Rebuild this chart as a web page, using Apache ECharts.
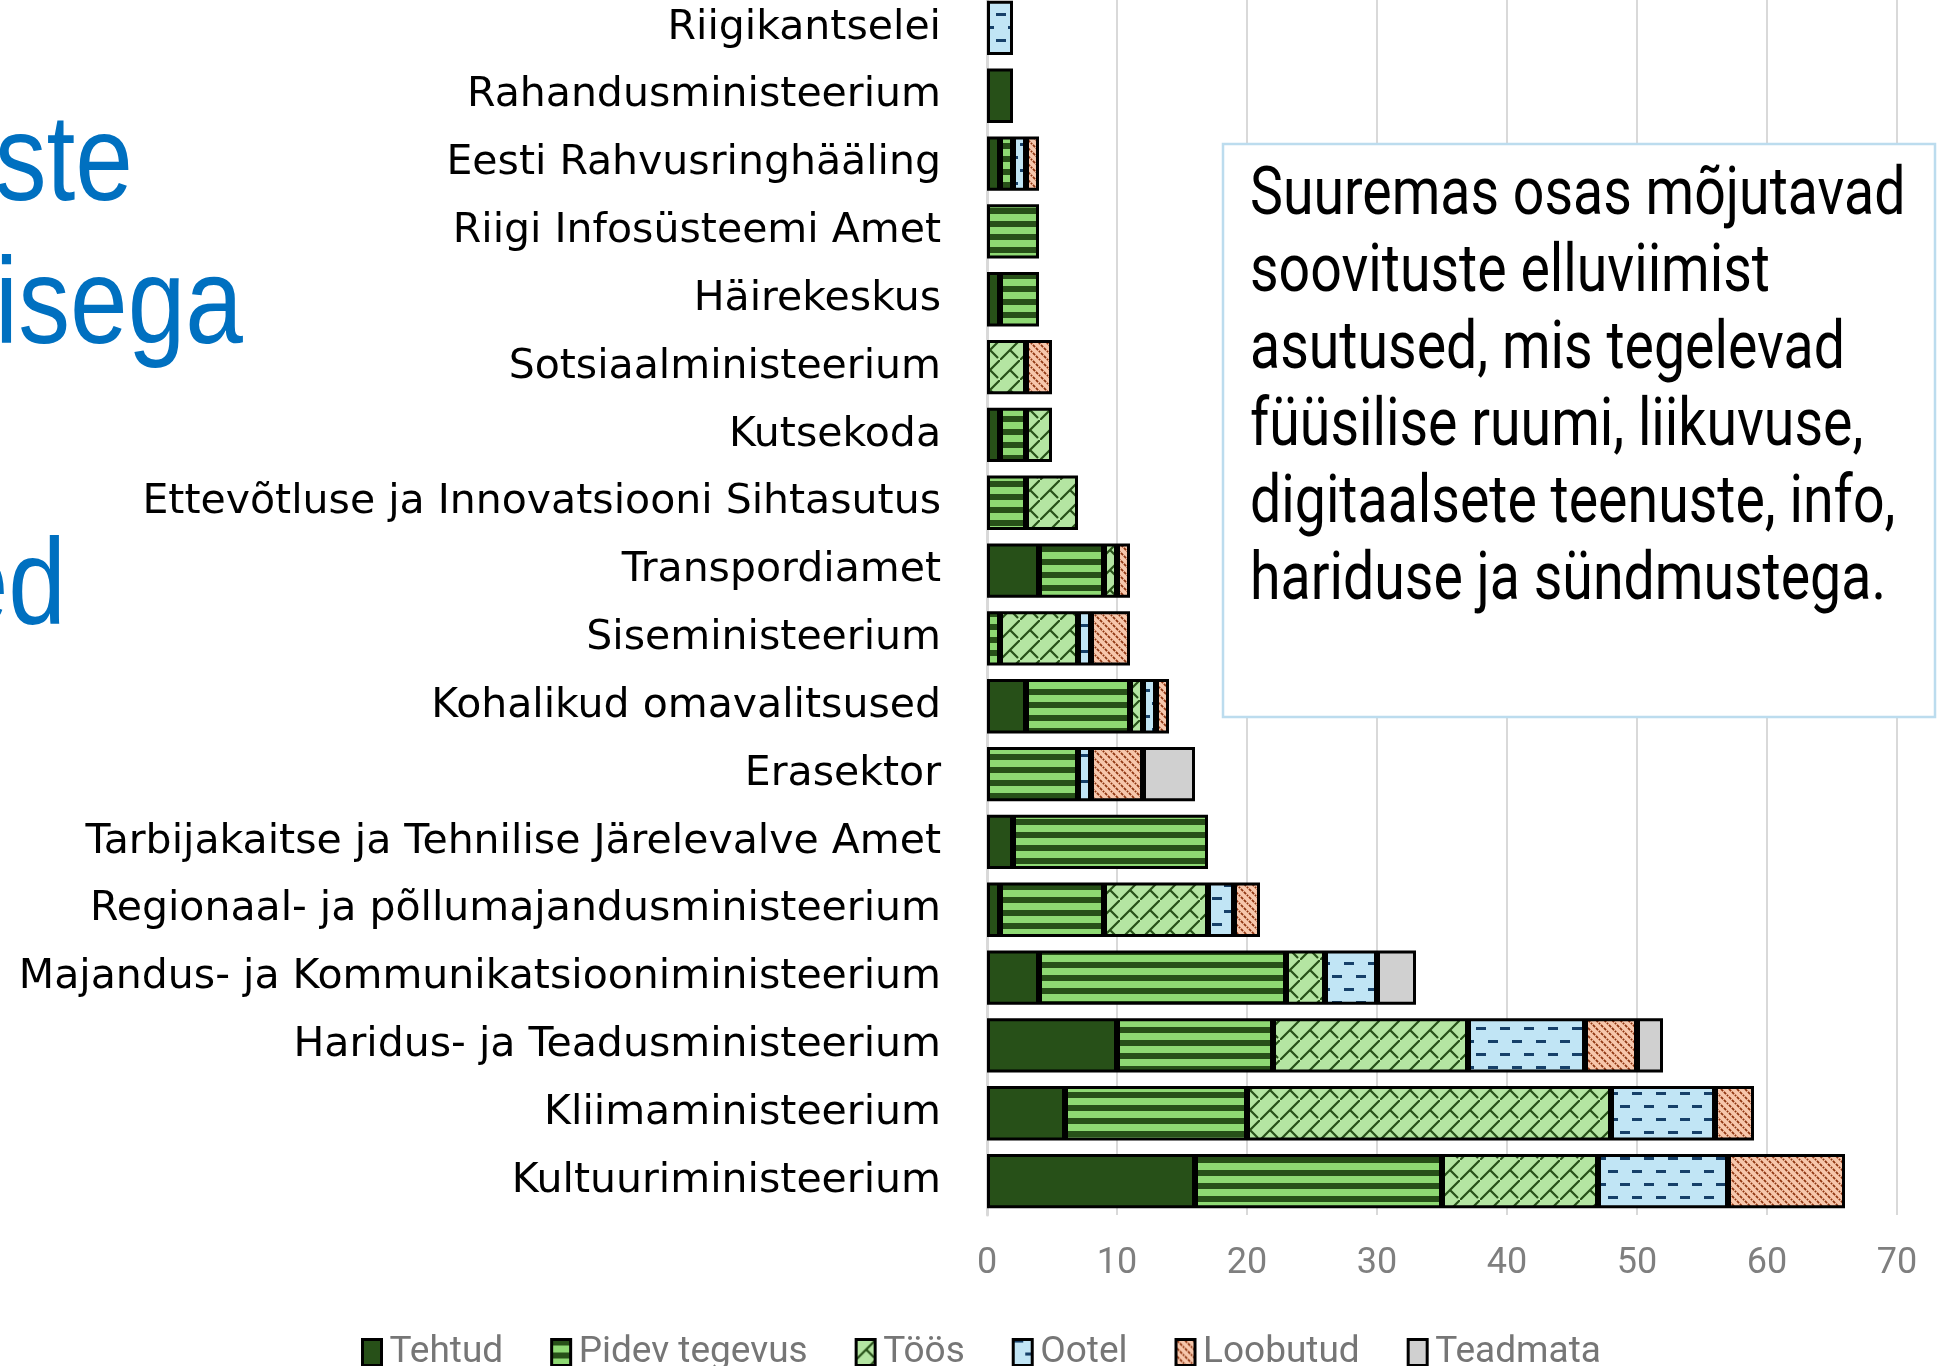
<!DOCTYPE html>
<html>
<head>
<meta charset="utf-8">
<script src="https://cdn.jsdelivr.net/npm/echarts@6.0.0/dist/echarts.min.js"></script>
<style>
    html, body { margin: 0; padding: 0; background: #fff; }
    #chart { width: 1945px; height: 1366px; }
</style>
</head>
<body>
<div id="chart"></div>
<script>
// asutused ülevalt alla
const categories = [
    "Riigikantselei",
    "Rahandusministeerium",
    "Eesti Rahvusringhääling",
    "Riigi Infosüsteemi Amet",
    "Häirekeskus",
    "Sotsiaalministeerium",
    "Kutsekoda",
    "Ettevõtluse ja Innovatsiooni Sihtasutus",
    "Transpordiamet",
    "Siseministeerium",
    "Kohalikud omavalitsused",
    "Erasektor",
    "Tarbijakaitse ja Tehnilise Järelevalve Amet",
    "Regionaal- ja põllumajandusministeerium",
    "Majandus- ja Kommunikatsiooniministeerium",
    "Haridus- ja Teadusministeerium",
    "Kliimaministeerium",
    "Kultuuriministeerium"
];
const tehtud   = [0, 2, 1, 0, 1, 0, 1, 0, 4, 0, 3, 0, 2, 1, 4, 10, 6, 16];
const pidev    = [0, 0, 1, 4, 3, 0, 2, 3, 5, 1, 8, 7, 15, 8, 19, 12, 14, 19];
const toos     = [0, 0, 0, 0, 0, 3, 2, 4, 1, 6, 1, 0, 0, 8, 3, 15, 28, 12];
const ootel    = [2, 0, 1, 0, 0, 0, 0, 0, 0, 1, 1, 1, 0, 2, 4, 9, 8, 10];
const loobutud = [0, 0, 1, 0, 0, 2, 0, 0, 1, 3, 1, 4, 0, 2, 0, 4, 3, 9];
const teadmata = [0, 0, 0, 0, 0, 0, 0, 0, 0, 0, 0, 4, 0, 0, 3, 2, 0, 0];
const seriesNames = ["Tehtud", "Pidev tegevus", "Töös", "Ootel", "Loobutud", "Teadmata"];
const xTicks = [0, 10, 20, 30, 40, 50, 60, 70];

const noteLines = [
    "Suuremas osas mõjutavad",
    "soovituste elluviimist",
    "asutused, mis tegelevad",
    "füüsilise ruumi, liikuvuse,",
    "digitaalsete teenuste, info,",
    "hariduse ja sündmustega."
];
const titleParts = ["ste", "isega", "ed"];

// mustrid (Exceli pattern fill moodi)
function pattern(w, h, bg, draw) {
    const c = document.createElement("canvas");
    c.width = w;
    c.height = h;
    const ctx = c.getContext("2d");
    ctx.fillStyle = bg;
    ctx.fillRect(0, 0, w, h);
    if (draw) draw(ctx);
    return { image: c, repeat: "repeat" };
}
const darkGreen = "#275018";
const fills = [
    darkGreen,
    pattern(4, 13, "#8ed973", ctx => {
        ctx.fillStyle = darkGreen;
        ctx.fillRect(0, 0, 4, 6);
    }),
    pattern(20, 20, "#b4e5a2", ctx => {
        ctx.strokeStyle = darkGreen;
        ctx.lineWidth = 2.2;
        ctx.beginPath();
        ctx.moveTo(-2, 22); ctx.lineTo(22, -2);
        ctx.moveTo(10, 10); ctx.lineTo(18, 18);
        ctx.stroke();
    }),
    pattern(24, 26, "#c1e5f5", ctx => {
        ctx.fillStyle = "#164069";
        ctx.fillRect(0, 0, 10, 3);
        ctx.fillRect(12, 13, 10, 3);
    }),
    pattern(8, 8, "#f7c7ac", ctx => {
        ctx.strokeStyle = "#8f3510";
        ctx.lineWidth = 1.8;
        ctx.setLineDash([3, 1.2]);
        ctx.beginPath();
        ctx.moveTo(-2, -2); ctx.lineTo(10, 10);
        ctx.moveTo(-2, 6); ctx.lineTo(2, 10);
        ctx.moveTo(6, -2); ctx.lineTo(10, 2);
        ctx.stroke();
    }),
    "#d0d0d0"
];
const values = [tehtud, pidev, toos, ootel, loobutud, teadmata];

const titleFont = '122px "Liberation Sans"';

const myChart = echarts.init(document.getElementById("chart"));
const option = {
    animation: false,
    grid: { left: 987, right: 48, top: -6, height: 1221, outerBoundsMode: "none" },
    xAxis: {
        type: "value",
        min: xTicks[0],
        max: xTicks[xTicks.length - 1],
        interval: 10,
        axisLine: { show: false },
        axisTick: { show: false },
        splitLine: { lineStyle: { color: "#d9d9d9", width: 2 } },
        axisLabel: { fontFamily: "Roboto", fontSize: 36, color: "#7f7f7f", margin: 31 }
    },
    yAxis: {
        type: "category",
        data: categories,
        inverse: true,
        axisTick: { show: false },
        axisLine: { lineStyle: { color: "#d9d9d9", width: 3 } },
        axisLabel: { fontFamily: "DejaVu Sans", fontSize: 41, color: "#000", margin: 46 }
    },
    legend: {
        left: 356,
        top: 1329,
        icon: "rect",
        itemWidth: 19,
        itemHeight: 26,
        itemGap: 47,
        itemStyle: { borderColor: "#000", borderWidth: 3 },
        textStyle: { fontFamily: "Roboto", fontSize: 37, color: "#767676", padding: [0, 0, 0, 3] },
        data: seriesNames
    },
    series: seriesNames.map((name, i) => ({
        name,
        type: "bar",
        stack: "kokku",
        barWidth: "80%",
        data: values[i].map(v => (v === 0 ? null : v)),
        itemStyle: { color: fills[i], borderColor: "#000", borderWidth: 3 },
        emphasis: { disabled: true }
    })),
    graphic: [
        {
            type: "rect",
            x: 1223,
            y: 144,
            z: 100,
            shape: { width: 712, height: 573 },
            style: { fill: "#fff", stroke: "#bcdcee", lineWidth: 2.5 }
        },
        {
            type: "text",
            x: 1250,
            y: 159,
            z: 101,
            scaleX: 0.84,
            style: {
                text: noteLines.join("\n"),
                fontFamily: "Roboto",
                fontSize: 66,
                lineHeight: 77,
                fill: "#000",
                textVerticalAlign: "top"
            }
        },
        {
            type: "text", x: 133, y: 166, z: 101, scaleX: 0.85,
            style: { text: titleParts[0], font: titleFont, fill: "#0070c0", textAlign: "right", textVerticalAlign: "middle" }
        },
        {
            type: "text", x: 243, y: 309, z: 101, scaleX: 0.85,
            style: { text: titleParts[1], font: titleFont, fill: "#0070c0", textAlign: "right", textVerticalAlign: "middle" }
        },
        {
            type: "text", x: 66, y: 590, z: 101, scaleX: 0.85,
            style: { text: titleParts[2], font: titleFont, fill: "#0070c0", textAlign: "right", textVerticalAlign: "middle" }
        }
    ]
};
myChart.setOption(option);
</script>
</body>
</html>
